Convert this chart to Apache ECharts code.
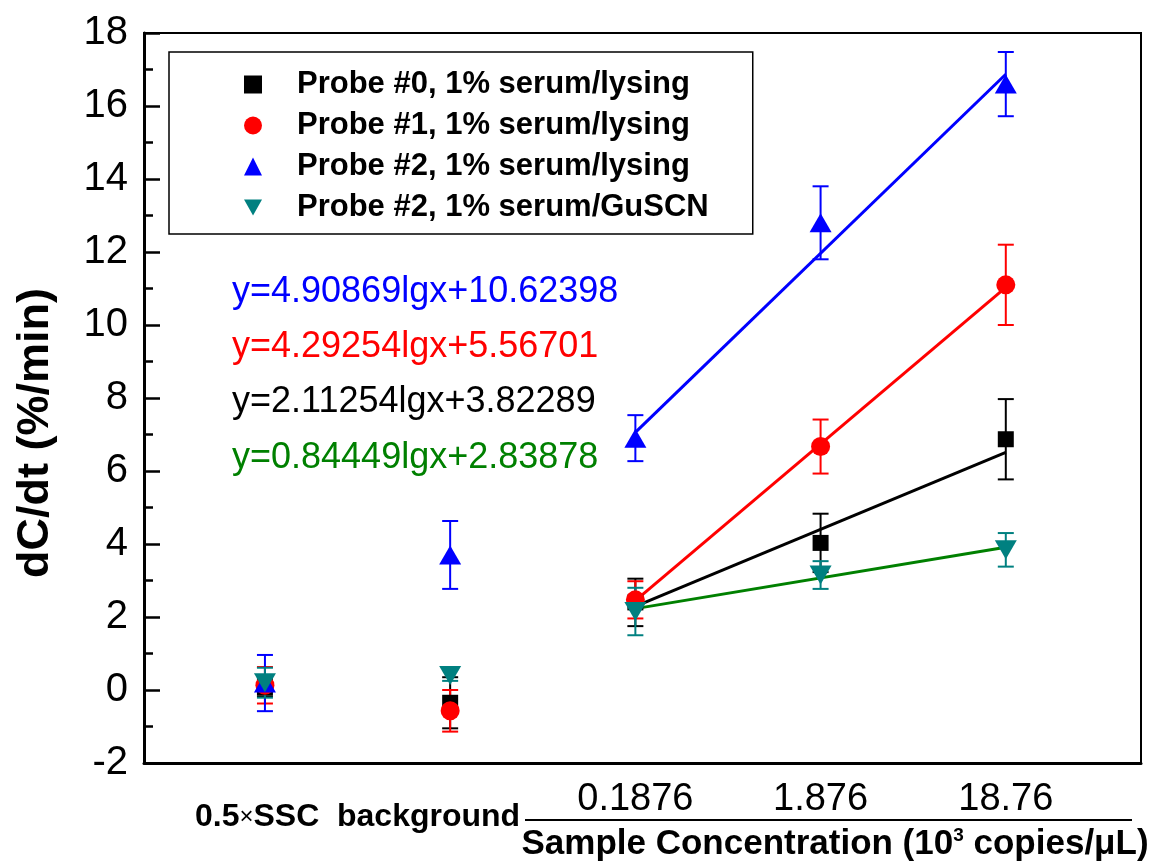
<!DOCTYPE html>
<html><head><meta charset="utf-8">
<script src="https://cdn.jsdelivr.net/npm/echarts@6/dist/echarts.min.js"></script>
<style>html,body{margin:0;padding:0;background:#fff}#c{width:1157px;height:863px}</style>
</head><body><div id="c"></div>
<script>
// ---- data ----
const xPositions = [0, 1, 2, 3, 4];
const concLabels = ['0.1876', '1.876', '18.76'];
const concPositions = [2, 3, 4];
const bgPosition = 0.5;
const yTicks = { min: -2, max: 18, step: 2 };
const seriesNames = ['Probe #0, 1% serum/lysing', 'Probe #1, 1% serum/lysing', 'Probe #2, 1% serum/lysing', 'Probe #2, 1% serum/GuSCN'];
const probe0 = [0.08, -0.35, 2.40, 4.03, 6.87];
const probe0Err = [0.25, 0.70, 0.65, 0.80, 1.10];
const probe1 = [0.13, -0.57, 2.47, 6.67, 11.10];
const probe1Err = [0.50, 0.57, 0.51, 0.74, 1.10];
const probe2 = [0.19, 3.70, 6.90, 12.80, 16.60];
const probe2Err = [0.77, 0.93, 0.63, 1.00, 0.88];
const probe2G = [0.20, 0.40, 2.15, 3.15, 3.84];
const probe2GErr = [0.41, 0.15, 0.65, 0.38, 0.46];
const fitX = [2, 4];
const fitProbe2 = [7.06, 16.87];
const fitProbe1 = [2.45, 11.03];
const fitProbe0 = [2.29, 6.51];
const fitProbe2G = [2.23, 3.91];
const equations = ['y=4.90869lgx+10.62398', 'y=4.29254lgx+5.56701', 'y=2.11254lgx+3.82289', 'y=0.84449lgx+2.83878'];

// ---- styles ----
const FONT = "'Liberation Sans', Arial, sans-serif";
const markerColors = ['#000000', '#ff0000', '#0000ff', '#008080'];
const fitColors = ['#000000', '#ff0000', '#0000ff', '#008000'];
const eqColors = ['#0000ff', '#ff0000', '#000000', '#008000'];
const symbols = ['rect', 'circle', 'triangle', 'path://M0,0L10,0L5,9Z'];
const symbolSizes = [16, 19, [22, 19], [22, 19]];
const values = [probe0, probe1, probe2, probe2G];
const errs = [probe0Err, probe1Err, probe2Err, probe2GErr];
const fits = [fitProbe0, fitProbe1, fitProbe2, fitProbe2G];

const chart = echarts.init(document.getElementById('c'), null, { renderer: 'canvas' });

function errRender(color) {
  return function (params, api) {
    const x = api.value(0), y = api.value(1), e = api.value(2);
    const p0 = api.coord([x, y + e]);
    const p1 = api.coord([x, y - e]);
    const w = 8;
    const st = { stroke: color, lineWidth: 2 };
    return {
      type: 'group',
      children: [
        { type: 'line', shape: { x1: p0[0], y1: p0[1], x2: p1[0], y2: p1[1] }, style: st },
        { type: 'line', shape: { x1: p0[0] - w, y1: p0[1], x2: p0[0] + w, y2: p0[1] }, style: st },
        { type: 'line', shape: { x1: p1[0] - w, y1: p1[1], x2: p1[0] + w, y2: p1[1] }, style: st }
      ]
    };
  };
}

const series = [];
for (let i = 0; i < 4; i++) {
  series.push({
    type: 'custom', name: seriesNames[i] + ' err', renderItem: errRender(markerColors[i]),
    data: xPositions.map((x, k) => [x, values[i][k], errs[i][k]]), z: 2, silent: true
  });
}
for (let i = 0; i < 4; i++) {
  series.push({
    type: 'line', name: seriesNames[i] + ' fit', showSymbol: false, symbol: 'none',
    data: fitX.map((x, k) => [x, fits[i][k]]),
    lineStyle: { color: fitColors[i], width: 3 }, z: 3, silent: true
  });
}
for (let i = 0; i < 4; i++) {
  series.push({
    type: 'scatter', name: seriesNames[i], symbol: symbols[i], symbolSize: symbolSizes[i],
    itemStyle: { color: markerColors[i], opacity: 1 },
    data: xPositions.map((x, k) => [x, values[i][k]]), z: 4
  });
}

const graphics = [
  { type: 'line', shape: { x1: 525, y1: 820, x2: 1132, y2: 820 }, style: { stroke: '#000', lineWidth: 2 } },
  { type: 'text', x: 835, y: 844, style: {
      text: 'Sample Concentration (10{sup|3} copies/μL)', font: 'bold 35px ' + FONT, fill: '#000',
      textAlign: 'center', textVerticalAlign: 'middle',
      rich: { sup: { fontSize: 19, fontWeight: 'bold', fontFamily: FONT, verticalAlign: 'top', padding: [0, 0, 16, 0] } }
  } }
];
const eqY = [292, 347, 402, 458];
equations.forEach((t, i) => {
  graphics.push({ type: 'text', x: 232, y: eqY[i], style: { text: t, font: '36px ' + FONT, fill: eqColors[i], textVerticalAlign: 'middle' } });
});

chart.setOption({
  animation: false,
  backgroundColor: '#fff',
  grid: { left: 144, right: 16, top: 33, bottom: 100, show: true, borderColor: '#000', borderWidth: 2, backgroundColor: 'transparent' },
  legend: {
    data: seriesNames, orient: 'vertical', left: 169, top: 52,
    borderColor: '#000', borderWidth: 1.5, backgroundColor: '#fff',
    padding: [17, 44, 11, 75], itemGap: 10, itemWidth: 18, itemHeight: 18,
    textStyle: { fontFamily: FONT, fontWeight: 'bold', fontSize: 31, color: '#000', lineHeight: 31, padding: [0, 0, 0, 30] },
    selectedMode: false
  },
  xAxis: [
    {
      type: 'value', min: -0.653, max: 4.73, position: 'bottom',
      axisLine: { show: true, onZero: false, lineStyle: { color: '#000', width: 3 } },
      axisTick: { show: false }, splitLine: { show: false },
      axisLabel: {
        customValues: concPositions, margin: 18,
        formatter: v => concLabels[concPositions.indexOf(v)] || '',
        fontFamily: FONT, fontSize: 38, color: '#000'
      }
    },
    {
      type: 'value', min: -0.653, max: 4.73, position: 'bottom',
      axisLine: { show: false }, axisTick: { show: false }, splitLine: { show: false },
      axisLabel: {
        customValues: [bgPosition], margin: 38,
        formatter: () => '{b|0.5}{x|×}{b|SSC  background}',
        rich: {
          b: { fontFamily: FONT, fontWeight: 'bold', fontSize: 32, color: '#000' },
          x: { fontFamily: FONT, fontSize: 24, color: '#000' }
        }
      }
    }
  ],
  yAxis: {
    type: 'value', min: yTicks.min, max: yTicks.max, interval: yTicks.step,
    name: 'dC/dt (%/min)', nameLocation: 'middle', nameGap: 86,
    nameTextStyle: { fontFamily: FONT, fontWeight: 'bold', fontSize: 45, color: '#000', padding: [0, 70, 0, 0] },
    axisLine: { show: true, onZero: false, lineStyle: { color: '#000', width: 3 } },
    axisTick: { show: true, inside: true, length: 16, lineStyle: { color: '#000', width: 2.5 } },
    minorTick: { show: true, splitNumber: 2, length: 9, lineStyle: { color: '#000', width: 2.5 } },
    splitLine: { show: false },
    axisLabel: { fontFamily: FONT, fontSize: 40, color: '#000', margin: 16 }
  },
  graphic: graphics,
  series: series
});
</script>
</body></html>
